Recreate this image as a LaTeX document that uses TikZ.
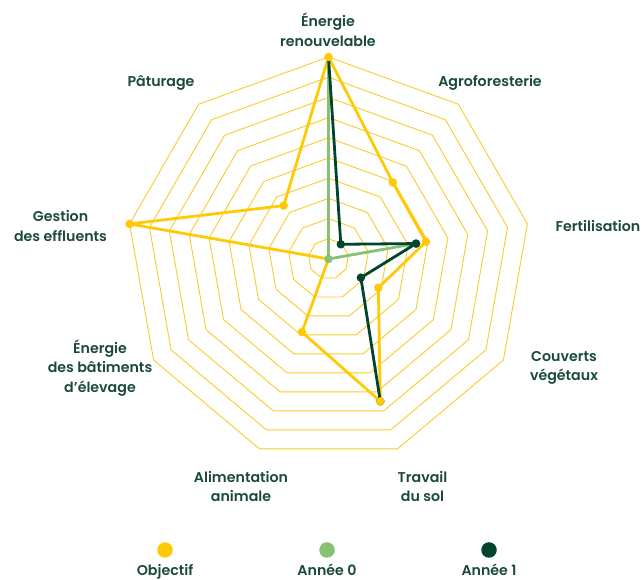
\documentclass[tikz,border=0pt]{standalone}
\usepackage{fontspec}
\setmainfont{Poppins}[UprightFont={* SemiBold}]
\definecolor{yel}{HTML}{FFCA05}
\definecolor{ring}{HTML}{F8CC2A}
\definecolor{lgreen}{HTML}{86C272}
\definecolor{dgreen}{HTML}{00432F}
\definecolor{txt}{HTML}{1B4A37}
\begin{document}
\begin{tikzpicture}[x=1pt,y=1pt,
  ringline/.style={draw=ring,line width=0.9pt,line join=miter},
  serobj/.style={draw=yel,line width=2.8pt,line join=round},
  serzero/.style={draw=lgreen,line width=2.8pt,line join=round},
  serone/.style={draw=dgreen,line width=2.8pt,line join=round},
  dotobj/.style={circle,fill=yel,inner sep=0pt,minimum size=8.5pt},
  dotzero/.style={circle,fill=lgreen,inner sep=0pt,minimum size=8.5pt},
  dotone/.style={circle,fill=dgreen,inner sep=0pt,minimum size=8.5pt},
  legdot/.style={circle,inner sep=0pt,minimum size=15.5pt},
  lbl/.style={text=txt,align=center,font=\fontsize{14.2}{19.5}\selectfont,inner sep=0pt},
  leglbl/.style={text=txt,font=\fontsize{14.2}{19.5}\selectfont,inner sep=0pt,anchor=base}]
\useasboundingbox (0,0) rectangle (643,580);
\def\rs{20.2}
\begin{scope}[shift={(328.5,321)}]
  % rings
  \foreach \k in {1,...,10}{
    \draw[ringline] (90:\k*\rs) -- (130:\k*\rs) -- (170:\k*\rs) -- (210:\k*\rs) -- (250:\k*\rs) -- (290:\k*\rs) -- (330:\k*\rs) -- (10:\k*\rs) -- (50:\k*\rs) -- cycle;
  }
  % Objectif
  \coordinate (o1) at (90:10*\rs);
  \coordinate (o2) at (50:4.95*\rs);
  \coordinate (o3) at (10:4.9*\rs);
  \coordinate (o4) at (-30:2.85*\rs);
  \coordinate (o5) at (-70:7.5*\rs);
  \coordinate (o6) at (-110:3.85*\rs);
  \coordinate (o7) at (0,0);
  \coordinate (o8) at (170:10*\rs);
  \coordinate (o9) at (130:3.45*\rs);
  % Annee 0
  \coordinate (z1) at (90:10*\rs);
  \coordinate (z2) at (0,0);
  \coordinate (z3) at (10:4.4*\rs);
  % Annee 1
  \coordinate (a1) at (90:10*\rs);
  \coordinate (a2) at (50:0.95*\rs);
  \coordinate (a3) at (10:4.4*\rs);
  \coordinate (a4) at (-30:1.85*\rs);
  \coordinate (a5) at (-70:7.5*\rs);
  \draw[serobj] (o1) -- (o2) -- (o3) -- (o4) -- (o5) -- (o6) -- (o7) -- (o8) -- (o9) -- cycle;
  \draw[serzero] (z1) -- (z2) -- (z3);
  \draw[serone] (a1) -- (a2) -- (a3) -- (a4) -- (a5);
  \node[dotzero] (dz2) at (z2) {};
  \node[dotzero] (dz3) at (z3) {};
  \foreach \p in {a2,a3,a4,a5}{\node[dotone] (d\p) at (\p) {};}
  \foreach \p in {o1,o2,o3,o4,o5,o6,o8,o9}{\node[dotobj] (d\p) at (\p) {};}
\end{scope}
% axis labels
\node[lbl] (lEn) at (328,550) {Énergie\\renouvelable};
\node[lbl] (lAg) at (490,497) {Agroforesterie};
\node[lbl] (lFe) at (598,353.5) {Fertilisation};
\node[lbl] (lCo) at (564,212) {Couverts\\végétaux};
\node[lbl] (lTr) at (422.5,93.5) {Travail\\du sol};
\node[lbl] (lAl) at (241,93.5) {Alimentation\\animale};
\node[lbl] (lEb) at (100,212) {Énergie\\des bâtiments\\d’élevage};
\node[lbl] (lGe) at (60.5,354) {Gestion\\des effluents};
\node[lbl] (lPa) at (161,497) {Pâturage};
% legend
\node[legdot,fill=yel] (k1) at (165,30) {};
\node[legdot,fill=lgreen] (k2) at (327,30) {};
\node[legdot,fill=dgreen] (k3) at (489,30) {};
\node[leglbl] (t1) at (165,4) {Objectif};
\node[leglbl] (t2) at (327,4) {Année 0};
\node[leglbl] (t3) at (489,4) {Année 1};
\end{tikzpicture}
\end{document}
